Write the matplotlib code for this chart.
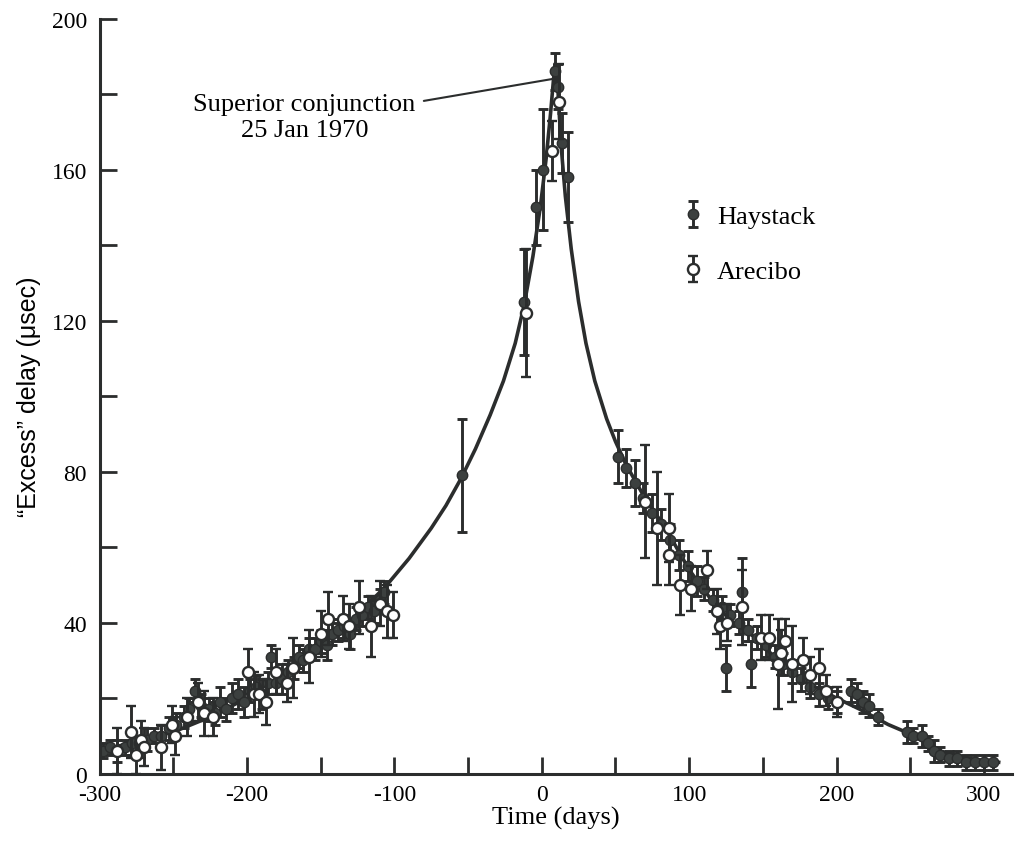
import matplotlib
matplotlib.use("Agg")
import matplotlib.pyplot as plt

# Haystack (filled) points: day, delay, error
hay_x = [-298, -293, -288, -283, -278, -273, -268, -263, -258, -253, -248, -243, -239, -235,
         -231, -226, -222, -218, -214, -210, -206, -202, -198, -194, -190, -186, -184, -180,
         -176, -172, -168, -165, -162, -158, -154, -150, -146, -142, -138, -134, -130, -126,
         -122, -118, -114, -110, -107,
         -54, -12, -4, 1, 9, 11, 14, 18,
         52, 57, 63, 69, 75, 81, 87, 93, 99, 105, 110, 116, 122, 125, 128, 134, 136, 140,
         142, 146, 152, 158, 164, 170, 176, 182, 188, 194, 200, 210, 214, 218, 222, 228,
         248, 252, 258, 262, 266, 270, 276, 282, 288, 294, 300, 306]
hay_y = [6, 7, 6, 7, 8, 8, 9, 10, 10, 12, 13, 15, 17, 22,
         18, 17, 16, 19, 17, 20, 21, 19, 22, 23, 21, 24, 31, 24,
         25, 27, 28, 31, 30, 33, 33, 35, 34, 37, 38, 39, 37, 41,
         42, 44, 43, 46, 48,
         79, 125, 150, 160, 186, 182, 167, 158,
         84, 81, 77, 73, 69, 66, 62, 58, 55, 51, 49, 46, 44, 28, 42, 40, 48, 38,
         29, 36, 34, 31, 29, 27, 25, 23, 21, 20, 19, 22, 21, 19, 18, 15,
         11, 10, 10, 8, 6, 5, 4, 4, 3, 3, 3, 3]
hay_err = [2, 2, 3, 2, 3, 2, 3, 2, 3, 3, 3, 3, 3, 3,
           3, 3, 3, 4, 3, 4, 4, 4, 3, 3, 4, 3, 3, 3,
           4, 3, 3, 3, 3, 3, 3, 3, 4, 3, 3, 3, 4, 3,
           3, 3, 3, 3, 3,
           15, 14, 10, 16, 5, 6, 8, 12,
           7, 5, 6, 4, 5, 4, 4, 4, 4, 4, 3, 3, 3, 6, 3, 3, 9, 3,
           6, 3, 3, 3, 3, 3, 3, 3, 3, 3, 3, 3, 3, 3, 3, 2,
           3, 2, 3, 2, 3, 2, 2, 2, 2, 2, 2, 2]

# Arecibo (open) points
are_x = [-288, -279, -275, -272, -270, -258, -251, -249, -241, -233, -229, -223,
         -199, -195, -192, -187, -180, -173, -169, -158, -150, -145, -135, -131,
         -124, -116, -110, -105, -101,
         -11, 7, 12,
         70, 78, 86, 86, 94, 101, 112, 119, 121, 126, 136, 149, 154, 160, 162,
         165, 170, 177, 182, 188, 193, 200]
are_y = [6, 11, 5, 9, 7, 7, 13, 10, 15, 19, 16, 15,
         27, 21, 21, 19, 27, 24, 28, 31, 37, 41, 41, 39,
         44, 39, 45, 43, 42,
         122, 165, 178,
         72, 65, 65, 58, 50, 49, 54, 43, 39, 40, 44, 36, 36, 29, 32,
         35, 29, 30, 26, 28, 22, 19]
are_err = [6, 7, 5, 5, 5, 6, 5, 5, 5, 5, 6, 5,
           6, 6, 5, 6, 6, 5, 8, 7, 6, 7, 6, 6,
           7, 8, 6, 7, 6,
           17, 8, 10,
           15, 15, 9, 8, 8, 6, 5, 6, 6, 5, 10, 6, 6, 12, 6,
           6, 10, 6, 5, 5, 4, 4]

# fitted curve
curve_x = [-300, -275, -250, -225, -200, -175, -150, -125, -105, -90, -75, -65, -55, -45,
           -35, -26, -18, -12, -6, -1, 3, 6, 8, 9,
           10, 11, 13, 16, 20, 25, 30, 36, 44, 50, 57, 70, 84, 100, 117, 130, 145, 160, 180,
           200, 216, 235, 250, 270, 290, 310]
curve_y = [6, 8.5, 11, 15, 20, 26.5, 34, 42, 50, 57, 65, 71, 78, 86,
           95, 104, 114, 124, 137, 150, 163, 175, 184, 188,
           187, 181, 167, 153, 139, 125, 114, 104, 94, 88, 82, 73, 65, 54, 45, 40, 36, 30, 24,
           20, 17, 13, 10.5, 6, 4, 3]

ink = "#2b2d2d"
fill = "#3c403f"
serif = ["Liberation Serif", "DejaVu Serif"]

fig = plt.figure(figsize=(10.16, 8.54), dpi=100)
ax = fig.add_axes([0.098, 0.093, 0.898, 0.884])

ax.plot(curve_x, curve_y, color=ink, lw=2.6, zorder=1)

hay = ax.errorbar(hay_x, hay_y, yerr=hay_err, fmt="o", color=ink, mfc=fill, mec=ink,
                  ms=7.5, elinewidth=2.1, capsize=3.5, capthick=2.1, zorder=2)
are = ax.errorbar(are_x, are_y, yerr=are_err, fmt="o", color=ink, mfc="white", mec=ink,
                  mew=1.7, ms=8, elinewidth=2.1, capsize=3.5, capthick=2.1, zorder=3)

ax.set_xlim(-297, 319)
ax.set_ylim(0, 200)
ax.set_xticks(range(-300, 301, 50))
ax.set_xticklabels([str(v) if v % 100 == 0 else "" for v in range(-300, 301, 50)])
ax.set_yticks(range(0, 201, 20))
ax.set_yticklabels([str(v) if v % 40 == 0 else "" for v in range(0, 201, 20)])
ax.tick_params(direction="in", length=12, width=2, color=ink, labelsize=17)
ax.tick_params(axis="y", pad=9)
ax.tick_params(axis="x", pad=7.5)
for lab in ax.get_xticklabels() + ax.get_yticklabels():
    lab.set_family(serif)

for s in ["top", "right"]:
    ax.spines[s].set_visible(False)
for s in ["left", "bottom"]:
    ax.spines[s].set_linewidth(2.2)
    ax.spines[s].set_color(ink)

ax.set_xlabel("Time (days)", family=serif, fontsize=19, labelpad=1)
ax.set_ylabel("\u201cExcess\u201d delay (\u03bcsec)", family=["Liberation Sans", "DejaVu Sans"],
              fontsize=18, labelpad=8)

ax.annotate("Superior conjunction\n25 Jan 1970", xy=(7, 184), xytext=(-161, 174),
            ha="center", va="center", family=serif, fontsize=19, linespacing=1.25,
            arrowprops=dict(arrowstyle="-", color=ink, lw=1.5, relpos=(1.0, 0.8),
                            shrinkA=4, shrinkB=0))

ax.legend([hay, are], ["Haystack", "Arecibo"], loc="upper left", bbox_to_anchor=(0.61, 0.785),
          frameon=False, prop={"family": serif, "size": 19}, handlelength=1.0,
          handletextpad=0.4, labelspacing=1.2)

fig.savefig("out.png", dpi=100)
